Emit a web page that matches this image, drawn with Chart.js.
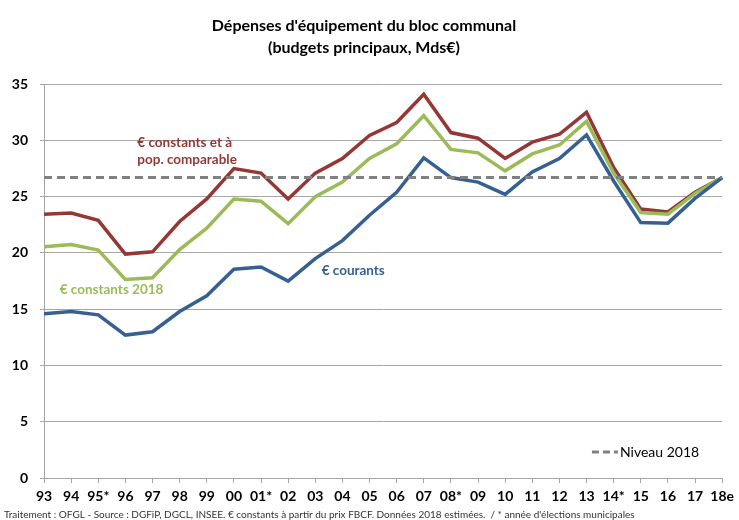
<!DOCTYPE html>
<html>
<head>
<meta charset="utf-8">
<script src="https://cdn.jsdelivr.net/npm/chart.js@4/dist/chart.umd.min.js"></script>
<style>
  html, body { margin: 0; padding: 0; background: #fff; }
  #wrap { width: 739px; height: 520px; position: relative; }
</style>
</head>
<body>
<div id="wrap"><canvas id="chart" width="739" height="520"></canvas></div>
<script>
// Years (x axis), * = municipal election years
const years = ['93', '94', '95*', '96', '97', '98', '99', '00', '01*', '02', '03', '04', '05',
  '06', '07', '08*', '09', '10', '11', '12', '13', '14*', '15', '16', '17', '18e'];

// € courants
const courants = [14.6, 14.8, 14.5, 12.7, 13.0, 14.8, 16.2, 18.55, 18.75, 17.5, 19.5, 21.1, 23.35,
  25.4, 28.45, 26.7, 26.3, 25.2, 27.2, 28.4, 30.5, 26.4, 22.7, 22.65, 24.85, 26.7];

// € constants 2018
const constants2018 = [20.55, 20.75, 20.25, 17.65, 17.8, 20.3, 22.2, 24.8, 24.6, 22.6, 25.0, 26.3, 28.4,
  29.7, 32.2, 29.2, 28.9, 27.3, 28.8, 29.6, 31.7, 27.1, 23.6, 23.45, 25.3, 26.7];

// € constants et à population comparable
const constantsPop = [23.45, 23.55, 22.9, 19.9, 20.1, 22.8, 24.8, 27.5, 27.1, 24.8, 27.1, 28.4, 30.45,
  31.6, 34.1, 30.7, 30.2, 28.4, 29.85, 30.55, 32.5, 27.6, 23.9, 23.65, 25.4, 26.7];

// niveau 2018 (reference line)
const niveau2018 = 26.7;

const yTicks = [0, 5, 10, 15, 20, 25, 30, 35];

const FONT = 'Lato, "Open Sans", sans-serif';
const RED = '#953735';
const GREEN = '#9BBB59';
const BLUE = '#376092';
const GRID = '#a6a6a6';

// text labels drawn on the chart (placed with the scales)
const seriesLabels = [
  { lines: ['€ constants et à', 'pop. comparable'], x: 3.44, y: 29.85, color: RED, step: 17, align: 'left' },
  { lines: ['€ constants 2018'], x: 2.49, y: 16.75, color: GREEN, step: 0, align: 'center' },
  { lines: ['€ courants'], x: 11.4, y: 18.4, color: BLUE, step: 0, align: 'center' }
];

const extras = {
  id: 'extras',
  afterDraw(chart) {
    const ctx = chart.ctx;
    const xs = chart.scales.x, ys = chart.scales.y;
    ctx.save();
    ctx.textBaseline = 'middle';
    ctx.font = 'bold 13.5px ' + FONT;
    seriesLabels.forEach(l => {
      ctx.fillStyle = l.color;
      ctx.textAlign = l.align;
      const px = xs.getPixelForValue(l.x);
      const py = ys.getPixelForValue(l.y);
      l.lines.forEach((t, i) => ctx.fillText(t, px, py + i * l.step));
    });

    // legend for the reference line
    const lx = xs.getPixelForValue(20.2);
    const ly = ys.getPixelForValue(2.3);
    ctx.strokeStyle = '#808080';
    ctx.lineWidth = 3;
    ctx.setLineDash([7, 4]);
    ctx.beginPath();
    ctx.moveTo(lx, ly);
    ctx.lineTo(lx + 26, ly);
    ctx.stroke();
    ctx.setLineDash([]);
    ctx.fillStyle = '#000';
    ctx.textAlign = 'left';
    ctx.font = '14px ' + FONT;
    ctx.fillText('Niveau 2018', lx + 28, ly);

    // footer
    ctx.font = '10px ' + FONT;
    ctx.fillStyle = '#333';
    ctx.textBaseline = 'alphabetic';
    ctx.fillText("Traitement : OFGL - Source : DGFiP, DGCL, INSEE. € constants à partir du prix FBCF. Données 2018 estimées.  / * année d'élections municipales", 4, 518);
    ctx.restore();
  }
};

const ctx = document.getElementById('chart').getContext('2d');
const myChart = new Chart(ctx, {
  type: 'line',
  data: {
    labels: years,
    datasets: [
      {
        label: 'Niveau 2018',
        data: years.map(() => niveau2018),
        borderColor: '#808080',
        borderWidth: 3,
        borderDash: [8, 5],
        pointRadius: 0
      },
      {
        label: '€ courants',
        data: courants,
        borderColor: BLUE,
        borderWidth: 3.5,
        pointRadius: 0
      },
      {
        label: '€ constants 2018',
        data: constants2018,
        borderColor: GREEN,
        borderWidth: 3.5,
        pointRadius: 0
      },
      {
        label: '€ constants et à pop. comparable',
        data: constantsPop,
        borderColor: RED,
        borderWidth: 3.5,
        pointRadius: 0
      }
    ]
  },
  options: {
    responsive: false,
    animation: false,
    layout: { padding: { left: 0, right: 11, top: 0, bottom: 0 } },
    plugins: {
      legend: { display: false },
      tooltip: { enabled: false },
      title: {
        display: true,
        text: ["Dépenses d'équipement du bloc communal", '(budgets principaux, Mds€)'],
        color: '#000',
        font: { family: FONT, size: 16, weight: 'bold', lineHeight: 1.35 },
        padding: { top: 15, bottom: 26 }
      }
    },
    scales: {
      x: {
        offset: false,
        grid: { drawOnChartArea: false, drawTicks: true, tickLength: 5, color: GRID },
        border: { color: GRID, width: 1 },
        ticks: {
          color: '#000',
          font: { family: FONT, size: 14, weight: 'bold' },
          padding: 5,
          maxRotation: 0,
          autoSkip: false
        },
        afterFit(scale) { scale.height = 42; }
      },
      y: {
        min: 0,
        max: 35,
        grid: { color: GRID, lineWidth: 1, tickLength: 4 },
        border: { color: GRID, width: 1 },
        afterBuildTicks(scale) { scale.ticks = yTicks.map(v => ({ value: v })); },
        ticks: {
          color: '#000',
          font: { family: FONT, size: 14, weight: 'bold' },
          padding: 12
        },
        afterFit(scale) { scale.width = 44; }
      }
    }
  },
  plugins: [extras]
});
</script>
</body>
</html>
